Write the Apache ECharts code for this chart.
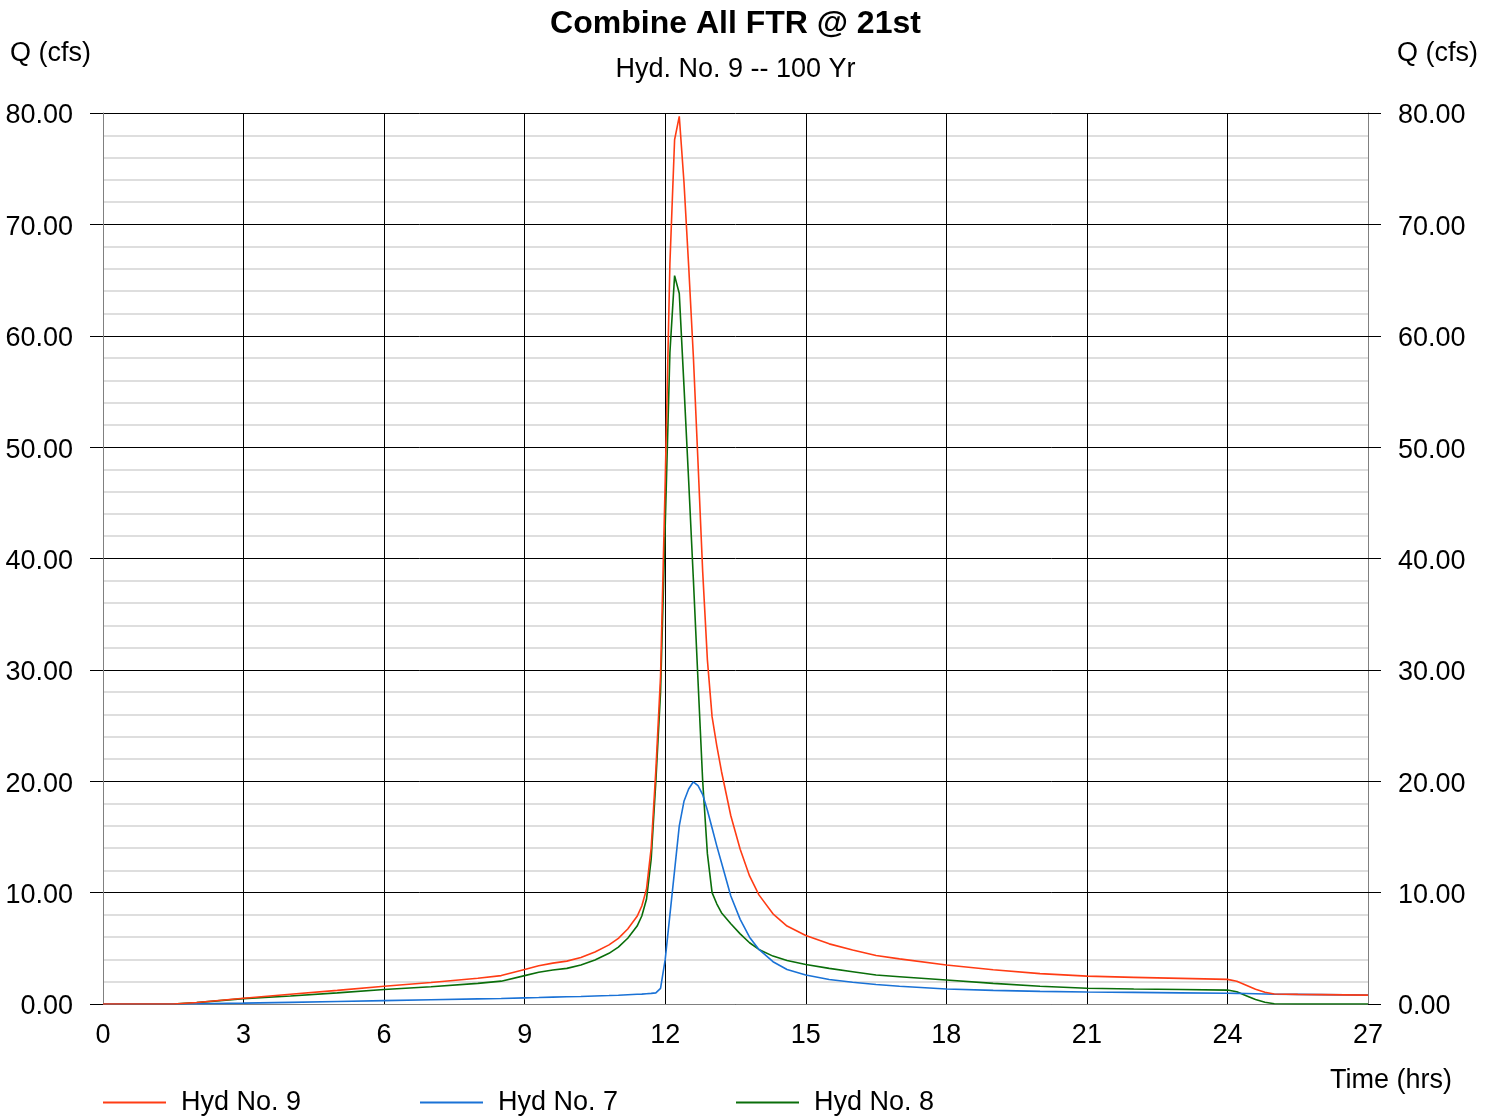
<!DOCTYPE html>
<html>
<head>
<meta charset="utf-8">
<script src="https://cdn.jsdelivr.net/npm/echarts@6/dist/echarts.min.js"></script>
<style>
  html, body { margin: 0; padding: 0; background: #fff; }
  #chart { width: 1496px; height: 1116px; }
</style>
</head>
<body>
<div id="chart"></div>
<script>
// time (hrs) of each sample
const times = [0, 1, 1.5, 2, 3, 4, 5, 6, 7, 8, 8.5, 9, 9.3, 9.6, 9.9, 10.2, 10.5, 10.8, 11.0, 11.2, 11.4, 11.5,
  11.6, 11.7, 11.8, 11.9, 12.0, 12.1, 12.2, 12.3, 12.4, 12.5, 12.6, 12.7, 12.8, 12.9, 13.0, 13.1, 13.2, 13.4,
  13.6, 13.8, 14.0, 14.3, 14.6, 15.0, 15.5, 16.0, 16.5, 17.0, 18, 19, 20, 21, 22, 23, 24, 24.2, 24.4, 24.6,
  24.8, 25.0, 25.5, 26, 27]

const hyd9 = [0, 0, 0, 0.13, 0.51, 0.87, 1.22, 1.6, 1.93, 2.31, 2.55, 3.1, 3.43, 3.67, 3.85, 4.18, 4.67, 5.31, 5.89, 6.73, 7.87, 8.8,
  10.3, 14, 21, 29.4, 47, 66.5, 77.6, 79.7, 73.8, 66.3, 58.2, 48.6, 38.8, 30.9, 25.8, 23.2, 20.9, 16.9,
  13.9, 11.5, 9.8, 8.1, 7.0, 6.15, 5.4, 4.85, 4.35, 4.05, 3.5, 3.07, 2.73, 2.5, 2.39, 2.3, 2.21, 2.05, 1.69, 1.32,
  1.05, 0.9, 0.86, 0.84, 0.8]

const hyd7 = [0, 0, 0, 0.02, 0.08, 0.15, 0.22, 0.3, 0.38, 0.46, 0.5, 0.55, 0.58, 0.62, 0.65, 0.68, 0.72, 0.76, 0.79, 0.83, 0.87, 0.89,
  0.92, 0.95, 1.0, 1.4, 4.0, 8.0, 12.0, 16.0, 18.2, 19.3, 19.95, 19.6, 18.8, 17.4, 15.8, 14.2, 12.7, 9.7,
  7.6, 6.0, 4.9, 3.8, 3.1, 2.6, 2.2, 1.95, 1.75, 1.6, 1.35, 1.22, 1.13, 1.08, 1.04, 1.0, 0.96, 0.95, 0.94, 0.92,
  0.9, 0.88, 0.86, 0.84, 0.8]

const hyd8 = [0, 0, 0, 0.12, 0.48, 0.72, 1.0, 1.3, 1.55, 1.85, 2.05, 2.55, 2.85, 3.05, 3.2, 3.5, 3.95, 4.55, 5.1, 5.9, 7.0, 7.9,
  9.4, 13, 20, 28, 43, 58.5, 65.4, 63.8, 55.5, 47, 38.2, 29, 20, 13.5, 10.0, 9.0, 8.2, 7.2,
  6.3, 5.5, 4.9, 4.3, 3.9, 3.55, 3.2, 2.9, 2.6, 2.45, 2.15, 1.85, 1.6, 1.42, 1.35, 1.3, 1.25, 1.1, 0.75, 0.4,
  0.15, 0.02, 0, 0, 0]

const seriesNames = ['Hyd No. 9', 'Hyd No. 7', 'Hyd No. 8']
const seriesColors = ['#ff3c14', '#1a72d6', '#0a6e0a']
const seriesValues = [hyd9, hyd7, hyd8]

const FONT = 'Liberation Sans, Arial, sans-serif'
const FS = 27
const chart = echarts.init(document.getElementById('chart'))

function pairs(vals) {
  return times.map((t, i) => [t, vals[i]])
}

const legendLeft = [98, 415, 731]
const plotCenter = 735.5

const yLabel = {
  fontFamily: FONT, fontSize: FS, color: '#000', margin: 30,
  formatter: v => '{v|' + v.toFixed(2) + '}',
  rich: { v: { fontFamily: FONT, fontSize: FS, color: '#000', padding: [6, 0, 0, 0] } }
}

const option = {
  animation: false,
  backgroundColor: '#fff',
  textStyle: { fontFamily: FONT, color: '#000' },
  graphic: [
    { type: 'text', x: plotCenter, y: 24, style: { text: 'Combine All FTR @ 21st', font: 'bold 32px ' + FONT, fill: '#000', align: 'center', verticalAlign: 'middle' } },
    { type: 'text', x: plotCenter, y: 70, style: { text: 'Hyd. No. 9 -- 100 Yr', font: FS + 'px ' + FONT, fill: '#000', align: 'center', verticalAlign: 'middle' } },
    { type: 'text', x: 10, y: 54, style: { text: 'Q (cfs)', font: FS + 'px ' + FONT, fill: '#000', align: 'left', verticalAlign: 'middle' } },
    { type: 'text', x: 1478, y: 54, style: { text: 'Q (cfs)', font: FS + 'px ' + FONT, fill: '#000', align: 'right', verticalAlign: 'middle' } },
    { type: 'text', x: 1452, y: 1081, style: { text: 'Time (hrs)', font: FS + 'px ' + FONT, fill: '#000', align: 'right', verticalAlign: 'middle' } }
  ],
  legend: seriesNames.map((n, i) => ({
    data: [n],
    left: legendLeft[i],
    top: 1084,
    icon: 'rect',
    itemWidth: 63,
    itemHeight: 2,
    textStyle: { fontFamily: FONT, fontSize: FS, color: '#000', padding: [0, 0, 0, 10] }
  })),
  grid: { left: 103, right: 128, top: 113, bottom: 112, containLabel: false },
  xAxis: {
    type: 'value',
    min: 0, max: 27, interval: 3,
    axisLine: { show: true, lineStyle: { color: '#808080', width: 1 } },
    axisTick: { show: false },
    axisLabel: { fontFamily: FONT, fontSize: FS, color: '#000', margin: 18 },
    splitLine: { show: true, lineStyle: { color: '#000', width: 1 } }
  },
  yAxis: [
    {
      type: 'value',
      min: 0, max: 80, interval: 10,
      position: 'left',
      axisLine: { show: true, lineStyle: { color: '#808080', width: 1 } },
      axisTick: { show: true, length: 13, lineStyle: { color: '#000' } },
      axisLabel: yLabel,
      splitLine: { show: true, lineStyle: { color: '#000', width: 1 } },
      minorTick: { show: false, splitNumber: 5 },
      minorSplitLine: { show: true, lineStyle: { color: '#d4d4d4', width: 1.5 } }
    },
    {
      type: 'value',
      min: 0, max: 80, interval: 10,
      position: 'right',
      axisLine: { show: true, lineStyle: { color: '#808080', width: 1 } },
      axisTick: { show: true, length: 13, lineStyle: { color: '#000' } },
      axisLabel: yLabel,
      splitLine: { show: false }
    }
  ],
  series: seriesNames.map((n, i) => ({
    name: n,
    type: 'line',
    data: pairs(seriesValues[i]),
    showSymbol: false,
    symbol: 'none',
    color: seriesColors[i],
    lineStyle: { color: seriesColors[i], width: 1.6 },
    z: 10 - i
  }))
}

chart.setOption(option)
</script>
</body>
</html>
